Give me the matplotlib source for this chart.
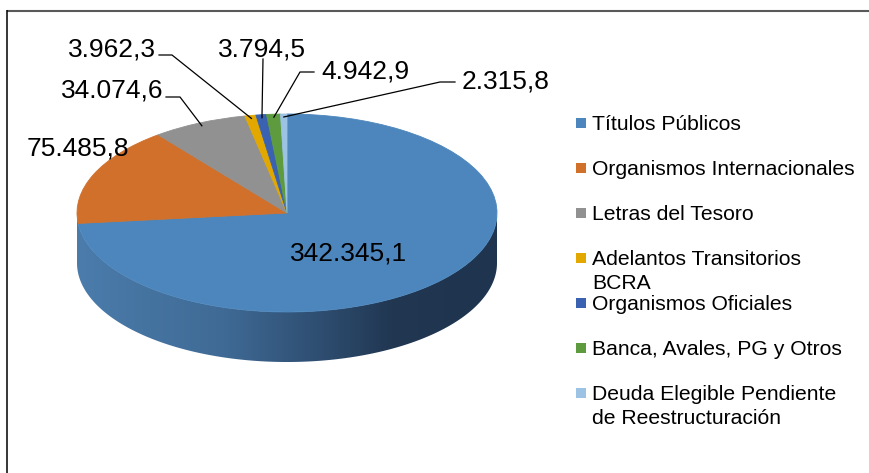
import matplotlib
matplotlib.use("Agg")
import matplotlib.pyplot as plt
import numpy as np
from matplotlib.patches import Polygon, Rectangle
from matplotlib.colors import LinearSegmentedColormap

plt.rcParams['font.family'] = ['Liberation Sans', 'DejaVu Sans']

# datos (millones)
categories = ["Títulos Públicos", "Organismos Internacionales", "Letras del Tesoro",
              "Adelantos Transitorios\nBCRA", "Organismos Oficiales",
              "Banca, Avales, PG y Otros",
              "Deuda Elegible Pendiente\nde Reestructuración"]
values = [342345.1, 75485.8, 34074.6, 3962.3, 3794.5, 4942.9, 2315.8]
colors = ["#4c86bc", "#d0702b", "#919191", "#e2a800", "#3a62b0", "#5e9a3e", "#9cc2e4"]


def fmt(v):
    s = f"{v:,.1f}"
    return s.replace(",", "X").replace(".", ",").replace("X", ".")


# geometry of the pie in pixels
W, H = 870, 473
CX, CY = 287, 213
RX, RY = 210, 99
DEPTH = 50

fig = plt.figure(figsize=(W / 100, H / 100), dpi=100)

# pie axes: unit circle -> ellipse
pax = fig.add_axes([0, 0, 1, 1])
pax.axis('off')

d = DEPTH / RY
th = np.linspace(np.pi, 2 * np.pi, 300)
side_x = np.concatenate([np.cos(th), np.cos(th[::-1])])
side_y = np.concatenate([np.sin(th), np.sin(th[::-1]) - d])
side = Polygon(np.column_stack([side_x, side_y]), closed=True, facecolor='none',
               edgecolor='none')
pax.add_patch(side)
side_cmap = LinearSegmentedColormap.from_list(
    "side", [(0, '#4b7cab'), (0.35, '#3f6a95'), (0.6, '#2d4b6d'),
             (0.75, '#213752'), (1, '#1f344e')])
grad = np.linspace(0, 1, 256).reshape(1, -1)
img = pax.imshow(grad, extent=[-1, 1, -1 - d, 0], cmap=side_cmap, aspect='auto',
                 zorder=1)
img.set_clip_path(side)

wedges, _ = pax.pie(values, colors=colors, startangle=90, counterclock=False,
                    radius=1, center=(0, 0), wedgeprops=dict(linewidth=0.6))
for w in wedges:
    w.set_edgecolor(w.get_facecolor())
    w.set_zorder(3)

pax.set_aspect('auto')
pax.set_xlim((0 - CX) / RX, (W - CX) / RX)
pax.set_ylim((CY - H) / RY, CY / RY)

# overlay axes in pixel coordinates for text, leaders and frame
ax = fig.add_axes([0, 0, 1, 1])
ax.set_zorder(2)
ax.patch.set_alpha(0)
ax.set_xlim(0, W)
ax.set_ylim(H, 0)
ax.axis('off')

ax.plot([7, W], [11, 11], color='#595959', lw=1.5, solid_capstyle='butt')
ax.plot([7.5, 7.5], [10, H], color='black', lw=1.1, solid_capstyle='butt')

# data labels
label_pos = [(290, 260), (27, 155), (61, 97), (68, 57), (218, 57), (321, 78), (462, 88)]
leaders = [None, None,
           [(166, 97), (180, 97)],
           [(159, 55), (172, 55)],
           [(263, 59)],
           [(314, 72), (300, 72)],
           [(455, 82), (440, 82)]]

total = sum(values)
cum = 0
for i, v in enumerate(values):
    frac = v / total
    mid = np.deg2rad(90 - (cum + frac / 2) * 360)
    cum += frac
    x, y = label_pos[i]
    ax.text(x, y, fmt(v), fontsize=19, ha='left', va='baseline', color='black')
    if leaders[i] is not None:
        rim = (CX + RX * 0.97 * np.cos(mid), CY - RY * 0.97 * np.sin(mid))
        pts = leaders[i] + [rim]
        ax.plot([p[0] for p in pts], [p[1] for p in pts], color='black', lw=0.9)

# legend
for i, (name, c) in enumerate(zip(categories, colors)):
    y = 123 + 45 * i
    ax.add_patch(Rectangle((576, y - 5), 10, 10, facecolor=c, edgecolor='none'))
    for k, line in enumerate(name.split("\n")):
        ax.text(592, y + 7 + 24 * k, line, fontsize=15.2, ha='left', va='baseline',
                color='black')

fig.savefig("out.png", dpi=100)
